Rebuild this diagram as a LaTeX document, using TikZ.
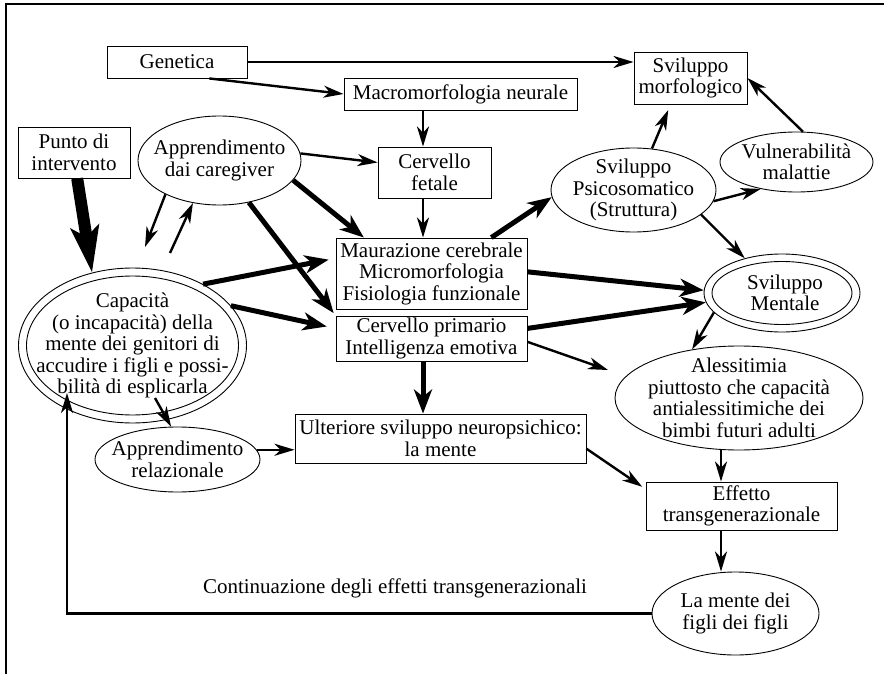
\documentclass[tikz,border=0pt]{standalone}
\usepackage{fontspec}
\usepackage{graphicx}
\setmainfont{Liberation Serif}
\usetikzlibrary{arrows.meta,shapes.geometric,calc}
\begin{document}
\begin{tikzpicture}[x=1pt,y=-1pt,
  txt/.style={font=\fontsize{21}{21.5}\selectfont, align=center, inner sep=0pt},
  box/.style={txt, draw, line width=0.9pt, rectangle, inner sep=0pt},
  ell/.style={draw, line width=0.9pt, ellipse, inner sep=0pt},
  thinarr/.style={line width=2.4pt, -{Stealth[length=20pt,width=12pt,inset=6pt]}},
  thickarr/.style={line width=5pt, -{Stealth[length=24pt,width=18pt,inset=7pt]}},
  hugearr/.style={line width=12pt, -{Stealth[length=46pt,width=28pt,inset=10pt]}},
]
\useasboundingbox (0,0) rectangle (884,674);
\draw[line width=1.6pt] (884,4) -- (6,4) -- (6,674);

% boxes
\node[box, minimum width=140pt, minimum height=32pt] (gen) at (177,62) {Genetica};
\node[box, minimum width=233pt, minimum height=32pt] (mac) at (460.5,94) {Macromorfologia neurale};
\node[box, minimum width=113pt, minimum height=52pt] (morf) at (690.5,78) {Sviluppo\\morfologico};
\node[box, minimum width=112pt, minimum height=51pt] (punto) at (74,152.5) {Punto di\\intervento};
\node[box, minimum width=113pt, minimum height=51pt] (fet) at (434.5,172.5) {Cervello\\fetale};
\node[box, minimum width=191pt, minimum height=71pt] (mau) at (431.5,273.5) {Maurazione cerebrale\\Micromorfologia\\Fisiologia funzionale};
\node[box, minimum width=191pt, minimum height=45pt] (cp) at (431.5,338.5) {Cervello primario\\Intelligenza emotiva};
\node[box, minimum width=291pt, minimum height=49pt] (ult) at (440.5,438.5) {};
\node[txt] (ultt) at (ult.center) {Ulteriore sviluppo neuropsichico:\\la mente};
\node[box, minimum width=191pt, minimum height=48pt] (eff) at (741.5,506) {Effetto\\transgenerazionale};

% ellipses
\node[ell, minimum width=163pt, minimum height=89pt] (appc) at (219.5,160.5) {};
\node[txt] (appct) at (appc.center) {Apprendimento\\dai caregiver};
\node[ell, minimum width=165pt, minimum height=84pt] (psico) at (633.5,190) {};
\node[txt] (psicot) at (psico.center) {Sviluppo\\Psicosomatico\\(Struttura)};
\node[ell, minimum width=153pt, minimum height=60pt] (vuln) at (796.5,162) {};
\node[txt] (vulnt) at (vuln.center) {Vulnerabilità\\malattie};
\node[ell, minimum width=228pt, minimum height=155pt] (cap) at (132.5,345.5) {};
\node[ell, minimum width=212pt, minimum height=139pt] (capin) at (cap.center) {};
\node[txt] (capt) at (cap.center) {Capacità\\(o incapacità) della\\mente dei genitori di\\accudire i figli e possi-\\bilità di esplicarla};
\node[ell, minimum width=156pt, minimum height=78pt] (ment) at (782,293) {};
\node[ell, minimum width=140pt, minimum height=63pt] (mentin) at (ment.center) {};
\node[txt] (mentt) at ([xshift=3pt]ment.center) {Sviluppo\\Mentale};
\node[ell, minimum width=248pt, minimum height=104pt] (aless) at (739,398) {};
\node[txt] (alesst) at (aless.center) {Alessitimia\\piuttosto che capacità\\antialessitimiche dei\\bimbi futuri adulti};
\node[ell, minimum width=165pt, minimum height=65pt] (apprel) at (177.5,459.5) {};
\node[txt] (apprelt) at (apprel.center) {Apprendimento\\relazionale};
\node[ell, minimum width=167pt, minimum height=83pt] (mente) at (735.5,613.5) {};
\node[txt] (mentet) at (mente.center) {La mente dei\\figli dei figli};
\node[txt] (cont) at (395,588) {Continuazione degli effetti transgenerazionali};

% helper coordinates
\coordinate (colx) at (423,0);
\coordinate (colr) at (721,0);
\coordinate (d1) at (145,247);
\coordinate (u1) at (170,253);
\coordinate (c1) at (155,398);
\coordinate (a1) at (608,370);
\coordinate (fb) at (67,393);

% connectors
\draw[thinarr] (gen.east) -- (gen.east -| morf.west);
\draw[thinarr] (gen.-27) -- (mac.west);
\draw[thinarr] (mac.south -| colx) -- (fet.north -| colx);
\draw[thinarr] (appc.5) -- (fet.170);
\draw[thinarr] (fet.south -| colx) -- (mau.north -| colx);
\draw[thickarr] (appc.-15) -- (mau.152.6);
\draw[thickarr, shorten >=3pt] (appc.-55.6) -- (cp.north west);
\draw[thinarr] (appc.212) -- (d1);
\draw[thinarr] (u1) -- (appc.238);
\draw[hugearr] (punto.-83) -- (cap.119);
\draw[thickarr, shorten >=7pt] (cap.41) -- (mau.171);
\draw[thickarr, shorten >=9pt] (cap.22.7) -- (cp.174);
\draw[thinarr] (c1) -- (apprel.101);
\draw[thinarr] (apprel.7) -- (apprel.7 -| ult.west);
\draw[thickarr] (cp.south -| colx) -- (ult.north -| colx);
\draw[thinarr] (cp.-2) -- (a1);
\draw[thickarr] (cp.6) -- (ment.187);
\draw[thickarr] (mau.1) -- (ment.178);
\draw[thickarr] (mau.31) -- (psico.185);
\draw[thinarr, shorten >=6pt] (psico.66) -- (morf.-127);
\draw[thinarr] (vuln.78) -- (morf.east);
\draw[thinarr] (psico.-8.6) -- (vuln.217);
\draw[thinarr] (psico.-20) -- (ment.137);
\draw[thinarr] (ment.196) -- (aless.134);
\draw[thinarr] (aless.south -| colr) -- (eff.north -| colr);
\draw[thinarr] (eff.south -| colr) -- (mente.north -| colr);
\draw[thinarr, shorten >=4pt] (ult.-4.5) -- (eff.170);
\draw[thinarr] (mente.west) -| (fb);
\end{tikzpicture}
\end{document}
